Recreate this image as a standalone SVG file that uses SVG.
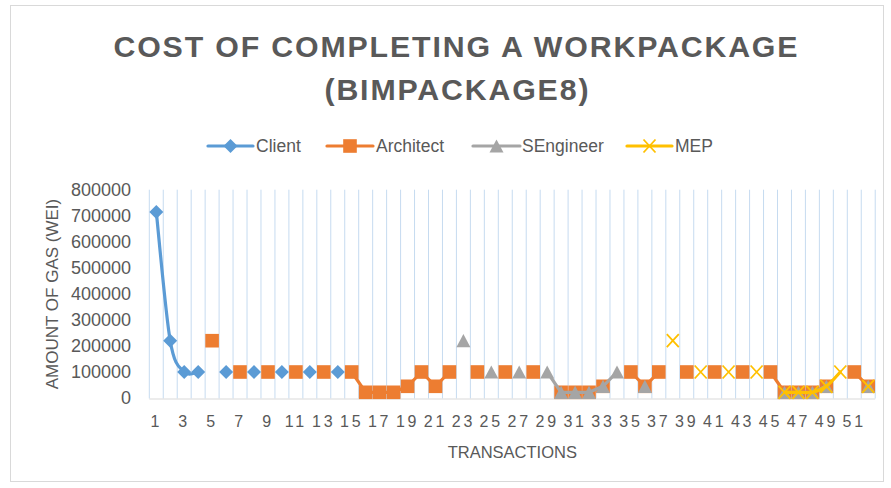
<svg xmlns="http://www.w3.org/2000/svg" xmlns:xlink="http://www.w3.org/1999/xlink" width="891" height="488" viewBox="0 0 891 488">
  <style>
    .title { font-family: "Liberation Sans", Arial, sans-serif; font-weight: bold; font-size: 30.3px; fill: #595959; letter-spacing: 1.85px; text-anchor: middle; }
    .legend { font-family: "Liberation Sans", Arial, sans-serif; font-size: 17.5px; fill: #595959; }
    .ytick { font-family: "Liberation Sans", Arial, sans-serif; font-size: 18px; fill: #595959; text-anchor: end; }
    .xtick { font-family: "Liberation Sans", Arial, sans-serif; font-size: 16px; fill: #595959; text-anchor: middle; letter-spacing: 2.8px; }
    .axtitle { font-family: "Liberation Sans", Arial, sans-serif; font-size: 16.5px; fill: #595959; text-anchor: middle; }
    .grid { stroke: #c6dbf0; stroke-width: 1; fill: none; }
    .axis { stroke: #d9d9d9; stroke-width: 1.2; fill: none; }
    .ln { fill: none; stroke-width: 3.2; stroke-linejoin: round; stroke-linecap: round; }
    .client { stroke: #5b9bd5; }
    .arch { stroke: #ed7d31; }
    .seng { stroke: #a5a5a5; }
    .mep { stroke: #ffc000; }
  </style>
  <defs>
    <polygon id="mk-diamond" points="0,-7 7,0 0,7 -7,0" fill="#5b9bd5"/>
    <rect id="mk-square" x="-6.8" y="-6.8" width="13.6" height="13.6" fill="#ed7d31"/>
    <polygon id="mk-triangle" points="0,-6.6 7,6.6 -7,6.6" fill="#a5a5a5"/>
    <path id="mk-x" d="M-6,-6.5L6,6.5M-6,6.5L6,-6.5" stroke="#ffc000" stroke-width="1.8" fill="none"/>
  </defs>

  <!-- chart area -->
  <rect x="10.5" y="5.5" width="873" height="476" fill="#ffffff" stroke="#d9d9d9" stroke-width="1"/>

  <!-- title -->
  <g id="title">
    <text class="title" x="456.4" y="56.7">COST OF COMPLETING A WORKPACKAGE</text>
    <text class="title" x="457.4" y="100">(BIMPACKAGE8)</text>
  </g>

  <!-- legend -->
  <g id="legend">
    <g id="legend-client">
      <line class="ln client" x1="208" y1="146" x2="253" y2="146" stroke-linecap="butt"/>
      <use xlink:href="#mk-diamond" x="230.5" y="146"/>
      <text class="legend" x="256" y="152">Client</text>
    </g>
    <g id="legend-architect">
      <line class="ln arch" x1="327" y1="146" x2="373" y2="146" stroke-linecap="butt"/>
      <use xlink:href="#mk-square" x="350" y="146"/>
      <text class="legend" x="376" y="152">Architect</text>
    </g>
    <g id="legend-sengineer">
      <line class="ln seng" x1="473" y1="146" x2="520" y2="146" stroke-linecap="butt"/>
      <use xlink:href="#mk-triangle" x="496.5" y="146"/>
      <text class="legend" x="522" y="152">SEngineer</text>
    </g>
    <g id="legend-mep">
      <line class="ln mep" x1="627" y1="146" x2="672" y2="146" stroke-linecap="butt"/>
      <use xlink:href="#mk-x" x="649.5" y="146"/>
      <text class="legend" x="675" y="152">MEP</text>
    </g>
  </g>

  <!-- vertical category gridlines -->
  <path class="grid" d="M149.3,189.7V398.5M163.26,189.7V398.5M177.22,189.7V398.5M191.18,189.7V398.5M205.14,189.7V398.5M219.1,189.7V398.5M233.06,189.7V398.5M247.02,189.7V398.5M260.98,189.7V398.5M274.94,189.7V398.5M288.9,189.7V398.5M302.86,189.7V398.5M316.82,189.7V398.5M330.78,189.7V398.5M344.74,189.7V398.5M358.7,189.7V398.5M372.66,189.7V398.5M386.62,189.7V398.5M400.58,189.7V398.5M414.54,189.7V398.5M428.5,189.7V398.5M442.46,189.7V398.5M456.42,189.7V398.5M470.38,189.7V398.5M484.34,189.7V398.5M498.3,189.7V398.5M512.26,189.7V398.5M526.22,189.7V398.5M540.18,189.7V398.5M554.14,189.7V398.5M568.1,189.7V398.5M582.06,189.7V398.5M596.02,189.7V398.5M609.98,189.7V398.5M623.94,189.7V398.5M637.9,189.7V398.5M651.86,189.7V398.5M665.82,189.7V398.5M679.78,189.7V398.5M693.74,189.7V398.5M707.7,189.7V398.5M721.66,189.7V398.5M735.62,189.7V398.5M749.58,189.7V398.5M763.54,189.7V398.5M777.5,189.7V398.5M791.46,189.7V398.5M805.42,189.7V398.5M819.38,189.7V398.5M833.34,189.7V398.5M847.3,189.7V398.5M861.26,189.7V398.5M875.22,189.7V398.5"/>
  <line class="axis" x1="149.3" y1="399" x2="875.2" y2="399"/>

  <!-- value axis labels -->
  <g id="y-axis">
    <text class="ytick" x="131" y="404.4">0</text>
    <text class="ytick" x="131" y="378.4">100000</text>
    <text class="ytick" x="131" y="352.3">200000</text>
    <text class="ytick" x="131" y="326.3">300000</text>
    <text class="ytick" x="131" y="300.3">400000</text>
    <text class="ytick" x="131" y="274.2">500000</text>
    <text class="ytick" x="131" y="248.2">600000</text>
    <text class="ytick" x="131" y="222.1">700000</text>
    <text class="ytick" x="131" y="196.1">800000</text>
    <text class="axtitle" transform="translate(58,294) rotate(-90)" style="font-size:17px">AMOUNT OF GAS (WEI)</text>
  </g>

  <!-- category axis labels -->
  <g id="x-axis">
    <text class="xtick" x="156.3" y="426.7">1</text>
    <text class="xtick" x="184.2" y="426.7">3</text>
    <text class="xtick" x="212.1" y="426.7">5</text>
    <text class="xtick" x="240.0" y="426.7">7</text>
    <text class="xtick" x="268.0" y="426.7">9</text>
    <text class="xtick" x="295.9" y="426.7">11</text>
    <text class="xtick" x="323.8" y="426.7">13</text>
    <text class="xtick" x="351.7" y="426.7">15</text>
    <text class="xtick" x="379.6" y="426.7">17</text>
    <text class="xtick" x="407.6" y="426.7">19</text>
    <text class="xtick" x="435.5" y="426.7">21</text>
    <text class="xtick" x="463.4" y="426.7">23</text>
    <text class="xtick" x="491.3" y="426.7">25</text>
    <text class="xtick" x="519.2" y="426.7">27</text>
    <text class="xtick" x="547.2" y="426.7">29</text>
    <text class="xtick" x="575.1" y="426.7">31</text>
    <text class="xtick" x="603.0" y="426.7">33</text>
    <text class="xtick" x="630.9" y="426.7">35</text>
    <text class="xtick" x="658.8" y="426.7">37</text>
    <text class="xtick" x="686.8" y="426.7">39</text>
    <text class="xtick" x="714.7" y="426.7">41</text>
    <text class="xtick" x="742.6" y="426.7">43</text>
    <text class="xtick" x="770.5" y="426.7">45</text>
    <text class="xtick" x="798.4" y="426.7">47</text>
    <text class="xtick" x="826.4" y="426.7">49</text>
    <text class="xtick" x="854.3" y="426.7">51</text>
    <text class="axtitle" x="512.3" y="458">TRANSACTIONS</text>
  </g>

  <!-- series -->
  <g id="series-client">
    <path class="ln client" d="M156.3,212C158.6,233.5 165.6,314 170.2,340.7C174.9,367.4 179.5,366.8 184.2,372C188.9,377.2 195.9,372 198.2,372"/>
    <use xlink:href="#mk-diamond" x="156.3" y="212"/>
    <use xlink:href="#mk-diamond" x="170.2" y="340.7"/>
    <use xlink:href="#mk-diamond" x="184.2" y="372"/>
    <use xlink:href="#mk-diamond" x="198.2" y="372"/>
    <use xlink:href="#mk-diamond" x="226.1" y="372"/>
    <use xlink:href="#mk-diamond" x="254.0" y="372"/>
    <use xlink:href="#mk-diamond" x="281.9" y="372"/>
    <use xlink:href="#mk-diamond" x="309.8" y="372"/>
    <use xlink:href="#mk-diamond" x="337.8" y="372"/>
  </g>

  <g id="series-architect">
    <path class="ln arch" d="M351.7,372L365.7,392.3L379.6,392.3L393.6,392.3L407.6,386.3L421.5,372L435.5,386.3L449.4,372M561.1,392.3L575.1,392.3L589,392.3L603,386.3M630.9,372L644.9,386.3L658.8,372M770.5,372L784.5,392.3L798.4,392.3L812.4,392.3L826.4,386.3M854.3,372L868.2,386.3"/>
    <use xlink:href="#mk-square" x="212.1" y="340.7"/>
    <use xlink:href="#mk-square" x="240.0" y="372"/>
    <use xlink:href="#mk-square" x="268.0" y="372"/>
    <use xlink:href="#mk-square" x="295.9" y="372"/>
    <use xlink:href="#mk-square" x="323.8" y="372"/>
    <use xlink:href="#mk-square" x="351.7" y="372"/>
    <use xlink:href="#mk-square" x="365.7" y="392.3"/>
    <use xlink:href="#mk-square" x="379.6" y="392.3"/>
    <use xlink:href="#mk-square" x="393.6" y="392.3"/>
    <use xlink:href="#mk-square" x="407.6" y="386.3"/>
    <use xlink:href="#mk-square" x="421.5" y="372"/>
    <use xlink:href="#mk-square" x="435.5" y="386.3"/>
    <use xlink:href="#mk-square" x="449.4" y="372"/>
    <use xlink:href="#mk-square" x="477.4" y="372"/>
    <use xlink:href="#mk-square" x="505.3" y="372"/>
    <use xlink:href="#mk-square" x="533.2" y="372"/>
    <use xlink:href="#mk-square" x="561.1" y="392.3"/>
    <use xlink:href="#mk-square" x="575.1" y="392.3"/>
    <use xlink:href="#mk-square" x="589.0" y="392.3"/>
    <use xlink:href="#mk-square" x="603.0" y="386.3"/>
    <use xlink:href="#mk-square" x="630.9" y="372"/>
    <use xlink:href="#mk-square" x="644.9" y="386.3"/>
    <use xlink:href="#mk-square" x="658.8" y="372"/>
    <use xlink:href="#mk-square" x="686.8" y="372"/>
    <use xlink:href="#mk-square" x="714.7" y="372"/>
    <use xlink:href="#mk-square" x="742.6" y="372"/>
    <use xlink:href="#mk-square" x="770.5" y="372"/>
    <use xlink:href="#mk-square" x="784.5" y="392.3"/>
    <use xlink:href="#mk-square" x="798.4" y="392.3"/>
    <use xlink:href="#mk-square" x="812.4" y="392.3"/>
    <use xlink:href="#mk-square" x="826.4" y="386.3"/>
    <use xlink:href="#mk-square" x="854.3" y="372"/>
    <use xlink:href="#mk-square" x="868.2" y="386.3"/>
  </g>

  <g id="series-sengineer">
    <path class="ln seng" d="M547.2,372L561.1,392.3L575.1,392.3L589,392.3L603,386.3L617,372M784.5,392.3L798.4,392.3L812.4,392.3L826.4,386.3"/>
    <use xlink:href="#mk-triangle" x="463.4" y="340.7"/>
    <use xlink:href="#mk-triangle" x="491.3" y="372"/>
    <use xlink:href="#mk-triangle" x="519.2" y="372"/>
    <use xlink:href="#mk-triangle" x="547.2" y="372"/>
    <use xlink:href="#mk-triangle" x="561.1" y="392.3"/>
    <use xlink:href="#mk-triangle" x="575.1" y="392.3"/>
    <use xlink:href="#mk-triangle" x="589.0" y="392.3"/>
    <use xlink:href="#mk-triangle" x="603.0" y="386.3"/>
    <use xlink:href="#mk-triangle" x="617.0" y="372"/>
    <use xlink:href="#mk-triangle" x="644.9" y="386.3"/>
    <use xlink:href="#mk-triangle" x="784.5" y="392.3"/>
    <use xlink:href="#mk-triangle" x="798.4" y="392.3"/>
    <use xlink:href="#mk-triangle" x="812.4" y="392.3"/>
    <use xlink:href="#mk-triangle" x="826.4" y="386.3"/>
    <use xlink:href="#mk-triangle" x="868.2" y="386.3"/>
  </g>

  <g id="series-mep">
    <path class="ln mep" d="M784.5,392.3C786.8,392.3 793.8,392.3 798.4,392.3C803,392.3 807.7,393.3 812.4,392.3C817.1,391.3 821.8,389.7 826.4,386.3C831,382.9 838,374.4 840.3,372"/>
    <use xlink:href="#mk-x" x="672.8" y="340.7"/>
    <use xlink:href="#mk-x" x="700.7" y="372"/>
    <use xlink:href="#mk-x" x="728.6" y="372"/>
    <use xlink:href="#mk-x" x="756.6" y="372"/>
    <use xlink:href="#mk-x" x="784.5" y="392.3"/>
    <use xlink:href="#mk-x" x="798.4" y="392.3"/>
    <use xlink:href="#mk-x" x="812.4" y="392.3"/>
    <use xlink:href="#mk-x" x="826.4" y="386.3"/>
    <use xlink:href="#mk-x" x="840.3" y="372"/>
    <use xlink:href="#mk-x" x="868.2" y="386.3"/>
  </g>
</svg>
